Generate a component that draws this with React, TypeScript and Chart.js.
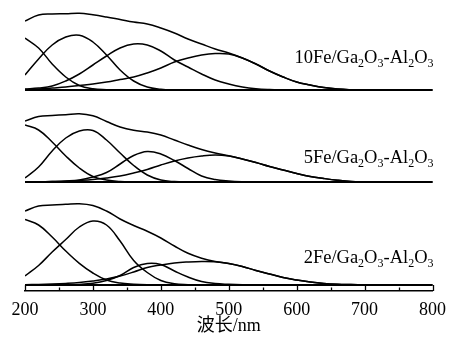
import React, { useEffect, useRef } from 'react';
import { Chart, registerables } from 'chart.js';

Chart.register(...registerables);

// Wavelength grid (nm)
const wavelengths = [200, 220, 240, 260, 280, 300, 320, 340, 360, 380, 400, 420, 440, 460, 480, 500, 520, 540, 560, 580, 600, 620, 640, 660, 680, 700, 720, 740, 760, 780, 800];

const sampleNames = ['10Fe/Ga2O3-Al2O3', '5Fe/Ga2O3-Al2O3', '2Fe/Ga2O3-Al2O3'];

const xTickValues = [200, 300, 400, 500, 600, 700, 800];
const xMinorTickValues = [250, 350, 450, 550, 650, 750];

// 10Fe/Ga2O3-Al2O3 (absorbance, a.u.)
const fe10Envelope = [0.69, 0.75, 0.76, 0.763, 0.768, 0.752, 0.73, 0.705, 0.68, 0.66, 0.62, 0.57, 0.51, 0.46, 0.41, 0.37, 0.32, 0.26, 0.19, 0.13, 0.08, 0.05, 0.025, 0.01, 0.003, 0, 0, 0, 0, 0, 0];
const fe10Peak1 = [0.52, 0.42, 0.26, 0.13, 0.045, 0.012, 0.003, 0, 0, 0, 0, 0, 0, 0, 0, 0, 0, 0, 0, 0, 0, 0, 0, 0, 0, 0, 0, 0, 0, 0, 0];
const fe10Peak2 = [0.15, 0.31, 0.45, 0.53, 0.548, 0.48, 0.35, 0.2, 0.09, 0.03, 0.008, 0.001, 0, 0, 0, 0, 0, 0, 0, 0, 0, 0, 0, 0, 0, 0, 0, 0, 0, 0, 0];
const fe10Peak3 = [0.01, 0.02, 0.04, 0.09, 0.16, 0.25, 0.34, 0.42, 0.46, 0.45, 0.39, 0.3, 0.23, 0.16, 0.1, 0.06, 0.03, 0.012, 0.004, 0.001, 0, 0, 0, 0, 0, 0, 0, 0, 0, 0, 0];
const fe10Peak4 = [0.005, 0.01, 0.02, 0.03, 0.045, 0.06, 0.08, 0.105, 0.13, 0.17, 0.22, 0.28, 0.32, 0.35, 0.365, 0.36, 0.32, 0.26, 0.19, 0.13, 0.08, 0.05, 0.025, 0.01, 0.003, 0, 0, 0, 0, 0, 0];

// 5Fe/Ga2O3-Al2O3
const fe5Envelope = [0.61, 0.655, 0.665, 0.673, 0.683, 0.662, 0.605, 0.55, 0.517, 0.5, 0.47, 0.42, 0.37, 0.325, 0.29, 0.262, 0.23, 0.195, 0.155, 0.12, 0.085, 0.055, 0.035, 0.018, 0.006, 0.002, 0, 0, 0, 0, 0];
const fe5Peak1 = [0.57, 0.52, 0.4, 0.26, 0.14, 0.055, 0.02, 0.005, 0.001, 0, 0, 0, 0, 0, 0, 0, 0, 0, 0, 0, 0, 0, 0, 0, 0, 0, 0, 0, 0, 0, 0];
const fe5Peak2 = [0.04, 0.15, 0.31, 0.44, 0.51, 0.515, 0.42, 0.29, 0.165, 0.07, 0.02, 0.004, 0, 0, 0, 0, 0, 0, 0, 0, 0, 0, 0, 0, 0, 0, 0, 0, 0, 0, 0];
const fe5Peak3 = [0, 0.002, 0.005, 0.01, 0.02, 0.05, 0.095, 0.18, 0.265, 0.305, 0.28, 0.215, 0.135, 0.06, 0.025, 0.01, 0.003, 0.001, 0, 0, 0, 0, 0, 0, 0, 0, 0, 0, 0, 0, 0];
const fe5Peak4 = [0, 0.002, 0.004, 0.007, 0.015, 0.025, 0.04, 0.06, 0.09, 0.125, 0.17, 0.21, 0.24, 0.26, 0.27, 0.26, 0.23, 0.195, 0.155, 0.12, 0.085, 0.055, 0.035, 0.018, 0.006, 0.002, 0, 0, 0, 0, 0];

// 2Fe/Ga2O3-Al2O3
const fe2Envelope = [0.74, 0.79, 0.8, 0.807, 0.813, 0.795, 0.74, 0.66, 0.595, 0.537, 0.47, 0.39, 0.317, 0.268, 0.235, 0.215, 0.185, 0.145, 0.11, 0.075, 0.05, 0.03, 0.016, 0.008, 0.004, 0.001, 0, 0, 0, 0, 0];
const fe2Peak1 = [0.655, 0.6, 0.48, 0.34, 0.217, 0.12, 0.05, 0.02, 0.008, 0.002, 0, 0, 0, 0, 0, 0, 0, 0, 0, 0, 0, 0, 0, 0, 0, 0, 0, 0, 0, 0, 0];
const fe2Peak2 = [0.09, 0.195, 0.33, 0.455, 0.58, 0.64, 0.6, 0.44, 0.245, 0.125, 0.045, 0.012, 0.003, 0, 0, 0, 0, 0, 0, 0, 0, 0, 0, 0, 0, 0, 0, 0, 0, 0, 0];
const fe2Peak3 = [0, 0, 0.001, 0.003, 0.006, 0.017, 0.045, 0.095, 0.175, 0.215, 0.205, 0.14, 0.08, 0.035, 0.015, 0.007, 0.002, 0, 0, 0, 0, 0, 0, 0, 0, 0, 0, 0, 0, 0, 0];
const fe2Peak4 = [0.003, 0.006, 0.01, 0.016, 0.025, 0.04, 0.06, 0.09, 0.13, 0.175, 0.2, 0.22, 0.23, 0.235, 0.232, 0.215, 0.185, 0.145, 0.11, 0.075, 0.05, 0.03, 0.016, 0.008, 0.004, 0.001, 0, 0, 0, 0, 0];

const panelSeries = [
  [fe10Envelope, fe10Peak1, fe10Peak2, fe10Peak3, fe10Peak4],
  [fe5Envelope, fe5Peak1, fe5Peak2, fe5Peak3, fe5Peak4],
  [fe2Envelope, fe2Peak1, fe2Peak2, fe2Peak3, fe2Peak4],
];

// layout (vertical offsets of each stacked panel, label lift above baseline)
const PANEL_OFFSET = [1.95, 1.03, 0];
const LABEL_LIFT = [0.275, 0.19, 0.22];

const SERIF = "'Liberation Serif', 'Times New Roman', serif";

function splitFormula(s: string) {
  const parts: { t: string; sub: boolean }[] = [];
  for (let i = 0; i < s.length; i++) {
    const c = s[i];
    const isDigit = c >= '0' && c <= '9';
    const prev = i > 0 ? s[i - 1] : '';
    const prevLetter = /[A-Za-z]/.test(prev);
    const prevSub = parts.length > 0 && parts[parts.length - 1].sub && /[0-9]/.test(prev);
    const sub = isDigit && (prevLetter || prevSub);
    if (parts.length && parts[parts.length - 1].sub === sub) parts[parts.length - 1].t += c;
    else parts.push({ t: c, sub });
  }
  return parts;
}

const decorPlugin = {
  id: 'decor',
  afterDraw(chart: any) {
    const ctx = chart.ctx as CanvasRenderingContext2D;
    const xs = chart.scales.x;
    const ys = chart.scales.y;
    const bottom = chart.chartArea.bottom;
    ctx.save();
    ctx.strokeStyle = '#000';
    ctx.lineWidth = 1.3;
    for (const v of xTickValues) {
      const px = Math.round(xs.getPixelForValue(v)) + 0.5;
      ctx.beginPath();
      ctx.moveTo(px, bottom);
      ctx.lineTo(px, bottom - 6);
      ctx.stroke();
    }
    for (const v of xMinorTickValues) {
      const px = Math.round(xs.getPixelForValue(v)) + 0.5;
      ctx.beginPath();
      ctx.moveTo(px, bottom);
      ctx.lineTo(px, bottom - 3.5);
      ctx.stroke();
    }
    // sample labels
    ctx.fillStyle = '#000';
    ctx.textBaseline = 'alphabetic';
    ctx.textAlign = 'left';
    const mainFont = `18.5px ${SERIF}`;
    const subFont = `12px ${SERIF}`;
    sampleNames.forEach((name, i) => {
      const parts = splitFormula(name);
      let total = 0;
      for (const p of parts) {
        ctx.font = p.sub ? subFont : mainFont;
        total += ctx.measureText(p.t).width;
      }
      let x = xs.getPixelForValue(800) + 1 - total;
      const y = ys.getPixelForValue(PANEL_OFFSET[i] + LABEL_LIFT[i]);
      for (const p of parts) {
        ctx.font = p.sub ? subFont : mainFont;
        ctx.fillText(p.t, x, p.sub ? y + 4 : y);
        x += ctx.measureText(p.t).width;
      }
    });
    ctx.restore();
  },
};

export default function App() {
  const ref = useRef<HTMLCanvasElement | null>(null);
  useEffect(() => {
    if (!ref.current) return;
    const datasets: any[] = [];
    panelSeries.forEach((series, i) => {
      const off = PANEL_OFFSET[i];
      datasets.push({
        data: [{ x: 200, y: off }, { x: 800, y: off }],
        borderColor: '#000',
        borderWidth: 2,
        pointRadius: 0,
        fill: false,
        tension: 0,
      });
      series.forEach((vals) => {
        datasets.push({
          data: wavelengths.map((w, k) => ({ x: w, y: vals[k] + off })),
          borderColor: '#000',
          borderWidth: 1.5,
          pointRadius: 0,
          fill: false,
          tension: 0.4,
        });
      });
    });
    const chart = new Chart(ref.current, {
      type: 'line',
      data: { datasets },
      options: {
        animation: false,
        responsive: false,
        layout: { padding: { left: 25, right: 17, top: 0, bottom: 0 } },
        plugins: { legend: { display: false }, tooltip: { enabled: false } },
        scales: {
          x: {
            type: 'linear',
            min: 200,
            max: 800,
            afterBuildTicks: (sc: any) => {
              sc.ticks = xTickValues.map((v) => ({ value: v }));
            },
            ticks: {
              color: '#000',
              font: { family: SERIF, size: 18 },
              padding: 8,
              maxRotation: 0,
              autoSkip: false,
            },
            grid: { display: false, drawTicks: false },
            border: { display: true, color: '#000', width: 1.5 },
            title: {
              display: true,
              text: '波长/nm',
              color: '#000',
              font: { family: "'Liberation Serif', 'Noto Sans CJK SC', serif", size: 18 },
              padding: { top: 0, bottom: 6 },
            },
            afterFit: (sc: any) => {
              sc.height = 52;
            },
          },
          y: { display: false, min: -0.06, max: 2.85 },
        },
      } as any,
      plugins: [decorPlugin],
    });
    return () => chart.destroy();
  }, []);
  return (
    <div style={{ position: 'fixed', left: 0, top: 0, width: 454, height: 343, background: '#fff' }}>
      <canvas ref={ref} width={454} height={343} style={{ display: 'block' }} />
    </div>
  );
}
